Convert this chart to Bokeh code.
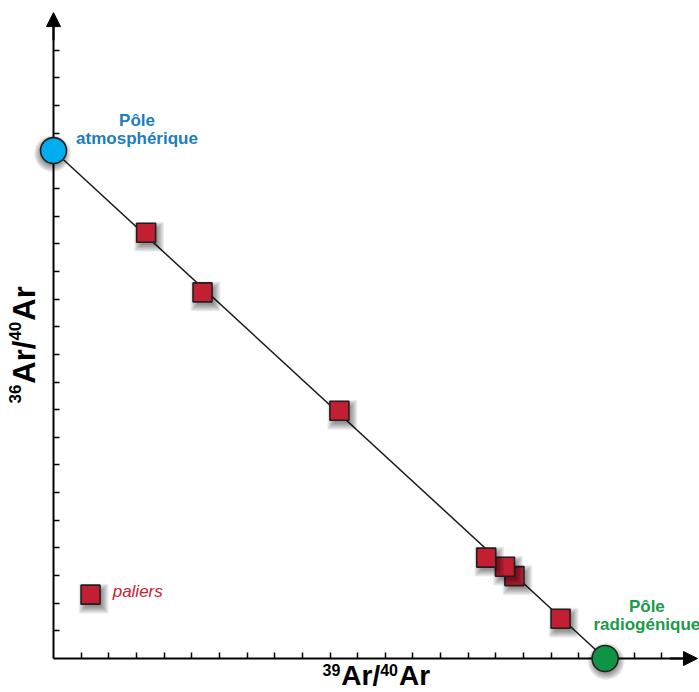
from bokeh.plotting import figure
from bokeh.models import Range1d, FixedTicker, Arrow, NormalHead
from bokeh.core.properties import value
from bokeh.embed import file_html
from bokeh.resources import INLINE

# ---------------- data (axis units = one tick step) ----------------
step_x = [3.35, 5.39, 10.34, 15.65, 16.33, 16.67, 18.34]
step_y = [15.40, 13.24, 8.96, 3.65, 3.32, 2.98, 1.44]
atm_x, atm_y = 0.0, 18.37          # atmospheric pole
rad_x, rad_y = 19.95, 0.0          # radiogenic pole
ticks = list(range(1, 23))
legend_x, legend_y = 1.34, 2.31
legend_label = "paliers"
atm_label = ["Pôle", "atmosphérique"]
rad_label = ["Pôle", "radiogénique"]
axis_tip_x, axis_tip_y = 23.29, 23.36

# ---------------- layout ----------------
W, H = 699, 692
U = 27.65                 # px per unit
X0_PX, Y0_PX = 53.0, 658.0
FIX = -6                  # baseline correction (px) for 17px texts

p = figure(width=W, height=H, output_backend="svg", toolbar_location=None,
           x_range=Range1d(-X0_PX / U, (W - X0_PX) / U),
           y_range=Range1d(-(H - Y0_PX) / U, Y0_PX / U),
           min_border=0)
p.min_border_left = p.min_border_right = p.min_border_top = p.min_border_bottom = 0
p.grid.visible = False
p.outline_line_color = None
p.background_fill_color = "white"
p.border_fill_color = "white"

for ax, end in ((p.xaxis[0], axis_tip_x), (p.yaxis[0], axis_tip_y)):
    ax.fixed_location = 0
    ax.ticker = FixedTicker(ticks=ticks, minor_ticks=[])
    ax.bounds = (0, end - 0.3)
    ax.major_tick_in = 6
    ax.major_tick_out = 0
    ax.minor_tick_line_color = None
    ax.major_label_text_font_size = "0px"
    ax.major_label_text_color = None
    ax.axis_line_width = 2
    ax.axis_line_color = "black"
    ax.major_tick_line_width = 1.5
    ax.major_tick_line_color = "black"
    ax.level = "underlay"

# arrow heads
p.add_layout(Arrow(end=NormalHead(size=14, fill_color="black", line_color="black"),
                   x_start=0, y_start=axis_tip_y - 1, x_end=0, y_end=axis_tip_y,
                   line_color="black", line_width=2))
p.add_layout(Arrow(end=NormalHead(size=14, fill_color="black", line_color="black"),
                   x_start=axis_tip_x - 1, y_start=0, x_end=axis_tip_x, y_end=0,
                   line_color="black", line_width=2))

# mixing line
p.line([atm_x, rad_x], [atm_y, rad_y], line_color="#1a1a1a", line_width=1.5)

SQ = 19
RED = "#c21f32"
SDX, SDY = 3 / U, -4 / U


def shadow(x, y, marker, base, dx=SDX, dy=SDY):
    for k in range(7):
        p.scatter([x + dx], [y + dy], marker=marker, size=base - 3 + 2.3 * k,
                  fill_color="black", fill_alpha=0.075, line_color=None)


for x, y in reversed(list(zip(step_x, step_y))):
    shadow(x, y, "square", SQ)
    p.scatter([x], [y], marker="square", size=SQ, fill_color=RED,
              line_color="#231f20", line_width=1.6)

# poles
shadow(atm_x, atm_y, "circle", 26, dx=-1 / U, dy=-3 / U)
p.scatter([atm_x], [atm_y], marker="circle", size=26, fill_color="#00aeef",
          line_color="#231f20", line_width=1.6)
shadow(rad_x, rad_y, "circle", 26, dx=1 / U, dy=-3 / U)
p.scatter([rad_x], [rad_y], marker="circle", size=26, fill_color="#0f9444",
          line_color="#231f20", line_width=1.6)

FONT = value("Liberation Sans")
p.text(x=[atm_x + 3.02] * 2, y=[atm_y + 0.87, atm_y + 0.22], text=atm_label,
       y_offset=FIX,
       text_font=FONT, text_font_style="bold", text_font_size="17px",
       text_color="#1b7dc2", text_align="center", text_baseline="alphabetic")
p.text(x=[rad_x + 1.51] * 2, y=[rad_y + 1.65, rad_y + 1.03], text=rad_label,
       y_offset=FIX,
       text_font=FONT, text_font_style="bold", text_font_size="17px",
       text_color="#1a9a4a", text_align="center", text_baseline="alphabetic")

# legend
shadow(legend_x, legend_y, "square", SQ)
p.scatter([legend_x], [legend_y], marker="square", size=SQ, fill_color=RED,
          line_color="#231f20", line_width=1.6)
p.text(x=[legend_x + 0.80], y=[legend_y - 0.09], text=[legend_label],
       y_offset=FIX,
       text_font=FONT, text_font_style="italic", text_font_size="17px",
       text_color="#c8202f", text_align="left", text_baseline="alphabetic")

# axis titles composed of pieces (superscripts)
xl_x, xl_y = 9.73, -0.98
big, small = 28, 16
w_sup = 1.112 * small + 1
w_arsl = 1.389 * big
p.text(x=[xl_x] * 2, y=[xl_y] * 2, text=["39", "40"],
       x_offset=[0, w_sup + w_arsl], y_offset=[-16, -16],
       text_font=FONT, text_font_style="bold", text_font_size=f"{small}px",
       text_color="black", text_align="left", text_baseline="alphabetic")
p.text(x=[xl_x] * 2, y=[xl_y] * 2, text=["Ar/", "Ar"],
       x_offset=[w_sup, 2 * w_sup + w_arsl], y_offset=[-10, -10],
       text_font=FONT, text_font_style="bold", text_font_size=f"{big}px",
       text_color="black", text_align="left", text_baseline="alphabetic")

yl_x, yl_y = -0.72, 9.22
bigy, smally = 31, 17
wy_sup = 1.112 * smally + 1
wy_arsl = 1.389 * bigy
p.text(x=[yl_x] * 2, y=[yl_y] * 2, text=["36", "40"],
       x_offset=[-19, -19], y_offset=[0, -(wy_sup + wy_arsl)], angle=1.5708,
       text_font=FONT, text_font_style="bold", text_font_size=f"{smally}px",
       text_color="black", text_align="left", text_baseline="alphabetic")
p.text(x=[yl_x] * 2, y=[yl_y] * 2, text=["Ar/", "Ar"],
       x_offset=[-9, -9], y_offset=[-wy_sup, -(2 * wy_sup + wy_arsl)], angle=1.5708,
       text_font=FONT, text_font_style="bold", text_font_size=f"{bigy}px",
       text_color="black", text_align="left", text_baseline="alphabetic")

open("out.html", "w").write(file_html(p, INLINE))
